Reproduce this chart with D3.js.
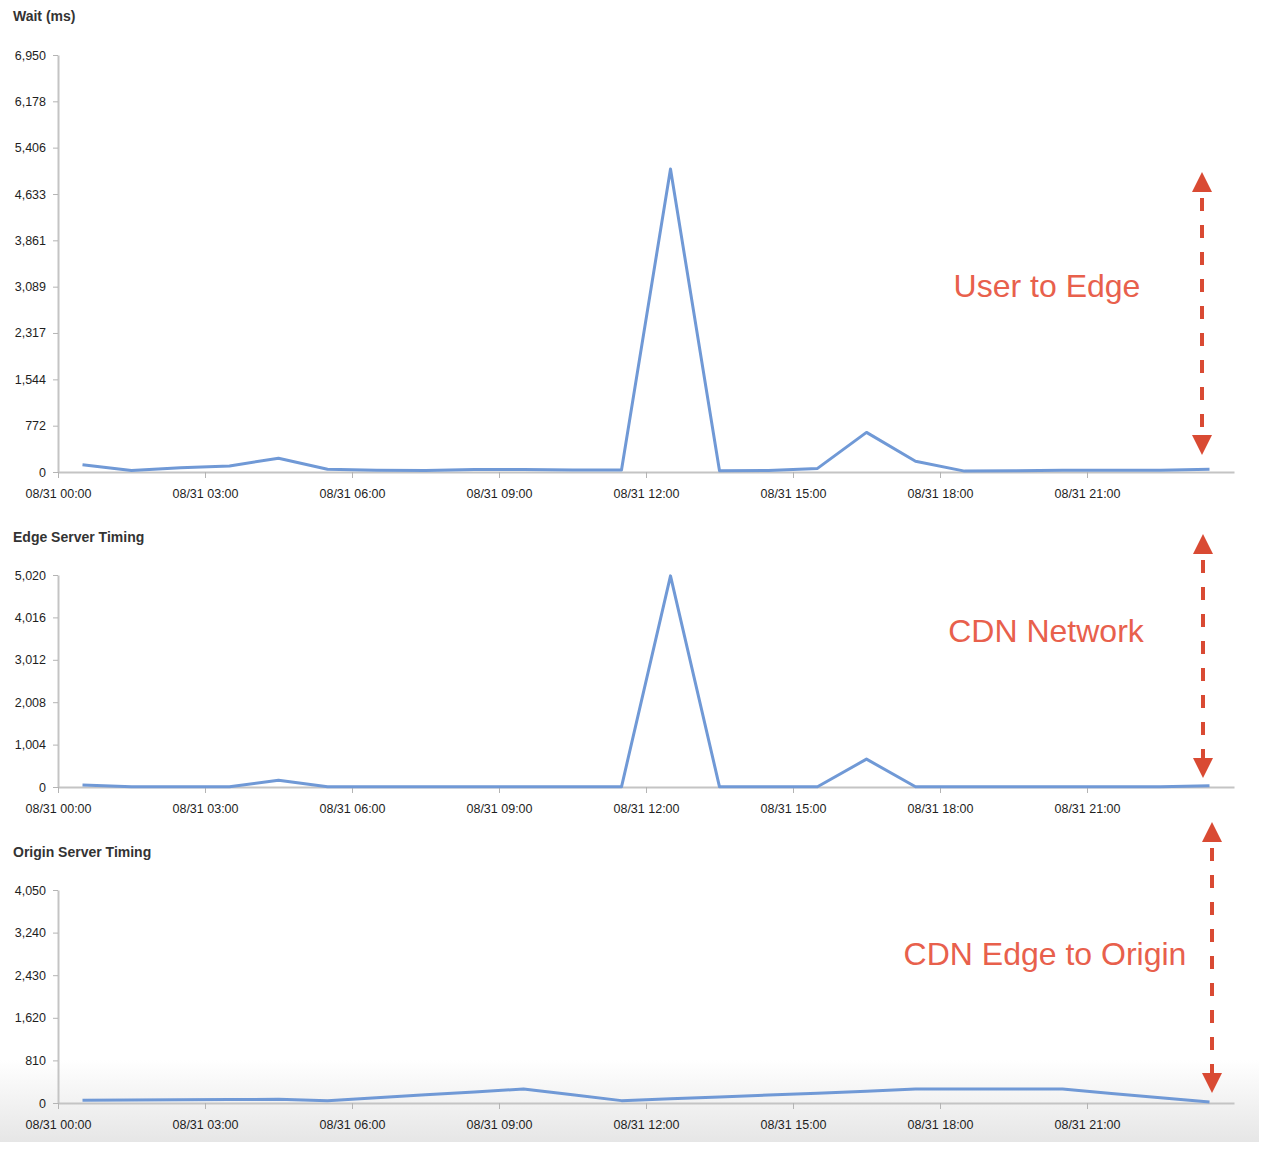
<!DOCTYPE html>
<html>
<head>
<meta charset="utf-8">
<script src="https://cdn.jsdelivr.net/npm/d3@7"></script>
<style>
  body { margin: 0; background: #fff; }
  svg { display: block; font-family: 'Liberation Sans', Arial, Helvetica, sans-serif; }
  .axis .tick text { fill: #1e1e1e; font-size: 12.5px; }
  .axis .domain { stroke: #c4c4c4; stroke-width: 2px; }
  .axis .tick line { stroke: #b4b4b4; }
  .title { font-size: 14px; font-weight: bold; fill: #333; }
  .note { font-size: 32px; fill: #e8604c; stroke: #fff; stroke-width: 4px; paint-order: stroke; }
</style>
</head>
<body>
<svg width="1261" height="1150"></svg>
<script>
// hourly samples (half past each hour)
const pointTimes = [
  '08/31 00:30', '08/31 01:30', '08/31 02:30', '08/31 03:30', '08/31 04:30', '08/31 05:30',
  '08/31 06:30', '08/31 07:30', '08/31 08:30', '08/31 09:30', '08/31 10:30', '08/31 11:30',
  '08/31 12:30', '08/31 13:30', '08/31 14:30', '08/31 15:30', '08/31 16:30', '08/31 17:30',
  '08/31 18:30', '08/31 19:30', '08/31 20:30', '08/31 21:30', '08/31 22:30', '08/31 23:30'
]

// Wait (ms)
const waitValues = [120, 25, 70, 100, 230, 45, 30, 25, 40, 40, 35, 35,
  5050, 20, 25, 60, 660, 180, 15, 20, 30, 30, 30, 45]

// Edge Server Timing
const edgeValues = [45, 5, 5, 5, 160, 5, 5, 5, 5, 5, 5, 5,
  5000, 5, 5, 5, 660, 5, 5, 5, 5, 5, 5, 30]

// Origin Server Timing
const originValues = [50, 55, 60, 65, 70, 45, 100, 155, 210, 265, 155, 45,
  80, 115, 150, 185, 225, 265, 265, 265, 265, 180, 100, 20]

// y tick labels
const waitTicks = [0, 772, 1544, 2317, 3089, 3861, 4633, 5406, 6178, 6950]
const edgeTicks = [0, 1004, 2008, 3012, 4016, 5020]
const originTicks = [0, 810, 1620, 2430, 3240, 4050]

// x tick labels
const xTickLabels = ['08/31 00:00', '08/31 03:00', '08/31 06:00', '08/31 09:00',
  '08/31 12:00', '08/31 15:00', '08/31 18:00', '08/31 21:00']
const xDomain = ['08/31 00:00', '09/01 00:00']

const panelTitles = ['Wait (ms)', 'Edge Server Timing', 'Origin Server Timing']
const noteLabels = ['User to Edge', 'CDN Network', 'CDN Edge to Origin']

const svg = d3.select('svg')
const parseTime = d3.timeParse('%m/%d %H:%M')
const lineColor = '#7099d6'
const arrowColor = '#d94a33'

// bottom grey fade of the screenshot
const defs = svg.append('defs')
const grad = defs.append('linearGradient')
  .attr('id', 'fade').attr('x1', 0).attr('y1', 0).attr('x2', 0).attr('y2', 1)
grad.append('stop').attr('offset', '0%').attr('stop-color', '#fff')
grad.append('stop').attr('offset', '100%').attr('stop-color', '#e6e6e6')
svg.append('rect')
  .attr('x', 0).attr('y', 1060).attr('width', 1259).attr('height', 82)
  .attr('fill', 'url(#fade)')

const xScale = d3.scaleTime()
  .domain(xDomain.map(parseTime))
  .range([58, 1234])

// one panel per metric
const panels = [
  { values: waitValues, ticks: waitTicks, top: 55, bottom: 472, titleY: 21,
    noteX: 1047, noteY: 297, arrowX: 1202, arrowTop: 172, arrowBottom: 455 },
  { values: edgeValues, ticks: edgeTicks, top: 575, bottom: 787, titleY: 542,
    noteX: 1046, noteY: 642, arrowX: 1203, arrowTop: 534, arrowBottom: 778 },
  { values: originValues, ticks: originTicks, top: 890, bottom: 1103, titleY: 857,
    noteX: 1045, noteY: 965, arrowX: 1212, arrowTop: 822, arrowBottom: 1093 }
]

panels.forEach((p, i) => {
  const yScale = d3.scaleLinear()
    .domain([0, d3.max(p.ticks)])
    .range([p.bottom, p.top])

  svg.append('text')
    .attr('class', 'title')
    .attr('x', 13)
    .attr('y', p.titleY)
    .text(panelTitles[i])

  // y axis
  svg.append('g')
    .attr('class', 'axis')
    .attr('transform', 'translate(58, 0)')
    .call(d3.axisLeft(yScale)
      .tickValues(p.ticks)
      .tickFormat(d3.format(','))
      .tickSize(5)
      .tickPadding(7)
      .tickSizeOuter(0))

  // x axis
  svg.append('g')
    .attr('class', 'axis')
    .attr('transform', 'translate(0,' + p.bottom + ')')
    .call(d3.axisBottom(xScale)
      .tickValues(xTickLabels.map(parseTime))
      .tickFormat(d3.timeFormat('%m/%d %H:%M'))
      .tickSize(6)
      .tickPadding(11)
      .tickSizeOuter(0))

  // data line
  const line = d3.line()
    .x((d, j) => xScale(parseTime(pointTimes[j])))
    .y((d) => yScale(d))

  svg.append('path')
    .datum(p.values)
    .attr('fill', 'none')
    .attr('stroke', lineColor)
    .attr('stroke-width', 3)
    .attr('stroke-linejoin', 'round')
    .attr('d', line)

  // annotation label
  svg.append('text')
    .attr('class', 'note')
    .attr('x', p.noteX)
    .attr('y', p.noteY)
    .attr('text-anchor', 'middle')
    .text(noteLabels[i])

  // dashed double arrow
  const head = 20
  svg.append('line')
    .attr('x1', p.arrowX).attr('x2', p.arrowX)
    .attr('y1', p.arrowTop + head).attr('y2', p.arrowBottom - head)
    .attr('stroke', arrowColor)
    .attr('stroke-width', 4)
    .attr('stroke-dasharray', '13,14')
    .attr('stroke-dashoffset', -6)

  svg.append('path')
    .attr('fill', arrowColor)
    .attr('d', `M${p.arrowX},${p.arrowTop} L${p.arrowX + 10},${p.arrowTop + head} L${p.arrowX - 10},${p.arrowTop + head} Z`)

  svg.append('path')
    .attr('fill', arrowColor)
    .attr('d', `M${p.arrowX},${p.arrowBottom} L${p.arrowX + 10},${p.arrowBottom - head} L${p.arrowX - 10},${p.arrowBottom - head} Z`)
})
</script>
</body>
</html>
